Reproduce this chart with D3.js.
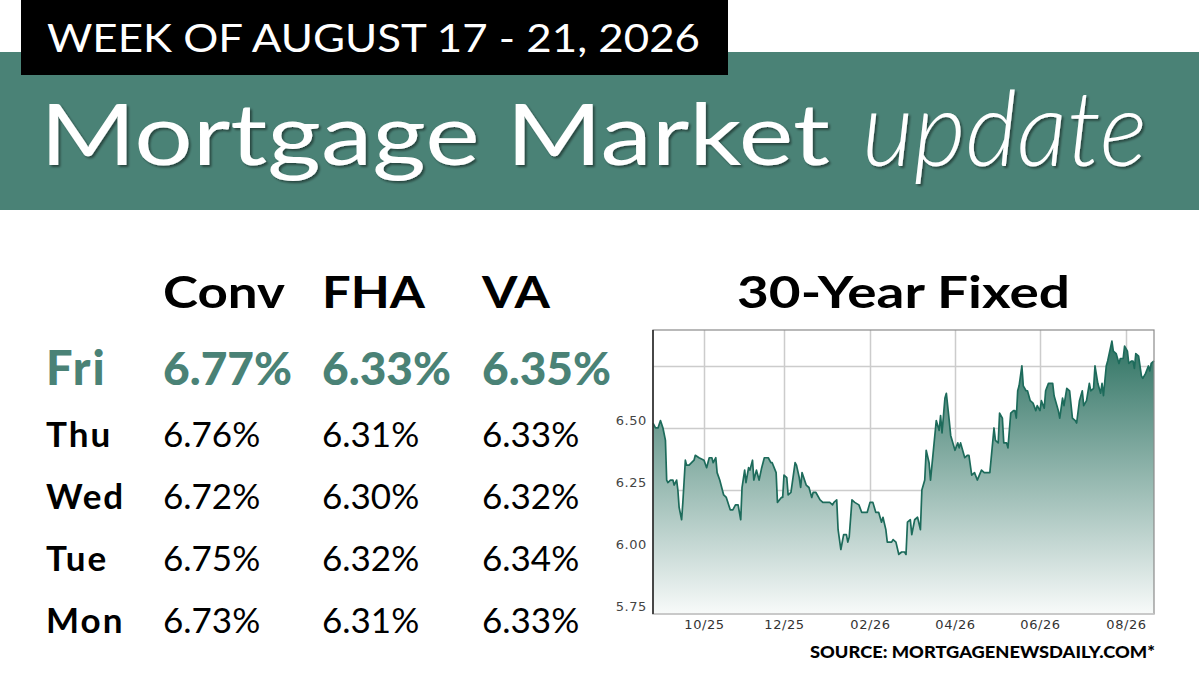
<!DOCTYPE html>
<html lang="en">
<head>
<meta charset="UTF-8">
<title>Mortgage Market update</title>
<script src="https://cdn.jsdelivr.net/npm/d3@7"></script>
<style>
  body { margin: 0; background: #fff; }
  svg { display: block; }
</style>
</head>
<body>
<div id="chart"></div>
<script>
// 30-year fixed
const rateDates = [
  "2025-08-21","2025-08-23","2025-08-25","2025-08-27","2025-08-29","2025-08-31",
  "2025-09-01","2025-09-02","2025-09-04","2025-09-06","2025-09-07","2025-09-09","2025-09-10","2025-09-11","2025-09-13","2025-09-14",
  "2025-09-16","2025-09-17","2025-09-19","2025-09-21","2025-09-23","2025-09-24","2025-09-27",
  "2025-10-01","2025-10-03","2025-10-05","2025-10-07","2025-10-08","2025-10-10","2025-10-11","2025-10-13","2025-10-16","2025-10-18",
  "2025-10-21","2025-10-23","2025-10-25","2025-10-27","2025-10-29","2025-10-30",
  "2025-11-01","2025-11-02","2025-11-04","2025-11-05","2025-11-07","2025-11-08","2025-11-10","2025-11-12","2025-11-14","2025-11-16",
  "2025-11-19","2025-11-21","2025-11-22","2025-11-25","2025-11-26","2025-11-29","2025-11-30",
  "2025-12-01","2025-12-03","2025-12-04","2025-12-06","2025-12-07","2025-12-09","2025-12-10","2025-12-12","2025-12-13","2025-12-14",
  "2025-12-17","2025-12-19","2025-12-21","2025-12-22","2025-12-24","2025-12-27","2025-12-29","2025-12-31",
  "2026-01-03","2026-01-05","2026-01-06","2026-01-08","2026-01-09","2026-01-11","2026-01-13","2026-01-15","2026-01-16","2026-01-17",
  "2026-01-19","2026-01-21","2026-01-24","2026-01-26","2026-01-28","2026-01-30",
  "2026-02-01","2026-02-03","2026-02-05","2026-02-07","2026-02-09","2026-02-10","2026-02-12","2026-02-13","2026-02-16","2026-02-17",
  "2026-02-19","2026-02-21","2026-02-23","2026-02-25","2026-02-26","2026-02-27",
  "2026-03-01","2026-03-02","2026-03-04","2026-03-06","2026-03-08","2026-03-09","2026-03-11","2026-03-12","2026-03-14","2026-03-15",
  "2026-03-17","2026-03-19","2026-03-21","2026-03-22","2026-03-23","2026-03-25","2026-03-26","2026-03-28","2026-03-29",
  "2026-04-01","2026-04-03","2026-04-04","2026-04-05","2026-04-08","2026-04-10","2026-04-11","2026-04-13","2026-04-15","2026-04-17",
  "2026-04-20","2026-04-22","2026-04-26","2026-04-29","2026-04-30",
  "2026-05-02","2026-05-03","2026-05-05","2026-05-06","2026-05-08","2026-05-09","2026-05-11","2026-05-13","2026-05-14","2026-05-15",
  "2026-05-16","2026-05-17","2026-05-19","2026-05-20","2026-05-22","2026-05-23","2026-05-25","2026-05-27","2026-05-29","2026-05-30",
  "2026-06-01","2026-06-02","2026-06-04","2026-06-05","2026-06-07","2026-06-10","2026-06-11","2026-06-14","2026-06-15","2026-06-17",
  "2026-06-18","2026-06-20","2026-06-22","2026-06-24","2026-06-26","2026-06-27","2026-06-29",
  "2026-07-01","2026-07-02","2026-07-04","2026-07-06","2026-07-07","2026-07-09","2026-07-10","2026-07-12","2026-07-14","2026-07-15",
  "2026-07-16","2026-07-18","2026-07-19","2026-07-22","2026-07-23","2026-07-25","2026-07-27","2026-07-28","2026-07-30","2026-07-31",
  "2026-08-02","2026-08-03","2026-08-05","2026-08-06","2026-08-07","2026-08-08","2026-08-10","2026-08-12","2026-08-13","2026-08-15",
  "2026-08-17","2026-08-18","2026-08-19","2026-08-21"
];
const rateValues = [
  6.52,6.50,6.50,6.53,6.50,6.45,
  6.29,6.28,6.29,6.29,6.27,6.29,6.25,6.18,6.13,6.20,
  6.37,6.35,6.35,6.36,6.37,6.39,6.38,
  6.37,6.34,6.38,6.38,6.36,6.38,6.32,6.29,6.23,6.22,
  6.17,6.17,6.19,6.19,6.13,6.26,
  6.33,6.28,6.34,6.33,6.37,6.29,6.33,6.29,6.34,6.38,
  6.38,6.36,6.36,6.32,6.20,6.22,6.22,
  6.31,6.30,6.23,6.24,6.28,6.36,6.35,6.30,6.26,6.32,
  6.27,6.26,6.22,6.24,6.24,6.21,6.20,6.20,
  6.20,6.19,6.20,6.21,6.09,6.01,6.07,6.07,6.04,6.06,
  6.21,6.20,6.19,6.16,6.16,6.16,
  6.20,6.20,6.16,6.16,6.12,6.14,6.09,6.04,6.04,6.05,
  6.04,5.99,6.00,6.00,5.99,6.12,
  6.13,6.07,6.13,6.14,6.09,6.25,6.29,6.41,6.36,6.29,
  6.41,6.53,6.49,6.55,6.48,6.62,6.64,6.53,6.47,
  6.41,6.44,6.42,6.44,6.38,6.39,6.39,6.31,6.32,6.29,
  6.33,6.32,6.32,6.50,6.45,
  6.44,6.56,6.54,6.44,6.44,6.42,6.56,6.57,6.57,6.54,
  6.65,6.67,6.75,6.67,6.65,6.65,6.61,6.60,6.57,6.59,
  6.57,6.61,6.58,6.65,6.68,6.68,6.63,6.57,6.54,6.62,
  6.59,6.66,6.65,6.54,6.53,6.52,6.61,
  6.65,6.59,6.61,6.68,6.65,6.66,6.75,6.68,6.64,6.68,
  6.63,6.75,6.77,6.85,6.81,6.80,6.76,6.78,6.78,6.83,
  6.81,6.76,6.77,6.77,6.74,6.80,6.79,6.71,6.70,6.72,
  6.75,6.73,6.76,6.77
];

const xTickDates = ["2025-10-01","2025-12-01","2026-02-01","2026-04-01","2026-06-01","2026-08-01"];
const xTickLabels = ["10/25","12/25","02/26","04/26","06/26","08/26"];
const yTickLabels = [5.75, 6.00, 6.25, 6.50];
const yGridValues = [6.00, 6.25, 6.50, 6.75];

// daily table
const columns = ["Conv", "FHA", "VA"];
const weekDays = ["Fri", "Thu", "Wed", "Tue", "Mon"];
const convRates = [6.77, 6.76, 6.72, 6.75, 6.73];
const fhaRates = [6.33, 6.31, 6.30, 6.32, 6.31];
const vaRates = [6.35, 6.33, 6.32, 6.34, 6.33];

const W = 1200, H = 697;
const teal = "#4a8276";
const parse = d3.timeParse("%Y-%m-%d");
const data = rateDates.map((d, i) => ({ date: parse(d), value: rateValues[i] }));

const svg = d3.select("#chart").append("svg")
    .attr("width", W)
    .attr("height", H);

const defs = svg.append("defs");
const shadow = defs.append("filter").attr("id", "shadow")
    .attr("x", "-5%").attr("y", "-10%").attr("width", "110%").attr("height", "130%");
shadow.append("feDropShadow")
    .attr("dx", 2).attr("dy", 2).attr("stdDeviation", 1.3)
    .attr("flood-color", "#000").attr("flood-opacity", 0.45);

const grad = defs.append("linearGradient").attr("id", "areaFill")
    .attr("gradientUnits", "userSpaceOnUse")
    .attr("x1", 0).attr("y1", 340).attr("x2", 0).attr("y2", 624);
grad.append("stop").attr("offset", 0).attr("stop-color", "#2f7363");
grad.append("stop").attr("offset", 1).attr("stop-color", "#ffffff");

// header
svg.append("rect").attr("x", 0).attr("y", 52).attr("width", 1199).attr("height", 158).attr("fill", teal);
svg.append("rect").attr("x", 21).attr("y", 0).attr("width", 707).attr("height", 75).attr("fill", "#000");

svg.append("text")
    .attr("x", 47).attr("y", 52)
    .attr("font-family", "Lato").attr("font-size", 38)
    .attr("fill", "#fff")
    .attr("textLength", 653).attr("lengthAdjust", "spacingAndGlyphs")
    .text("WEEK OF AUGUST 17 - 21, 2026");

svg.append("text")
    .attr("x", 40).attr("y", 165)
    .attr("font-family", "Lato").attr("font-size", 86)
    .attr("fill", "#fff")
    .attr("filter", "url(#shadow)")
    .attr("textLength", 790).attr("lengthAdjust", "spacingAndGlyphs")
    .text("Mortgage Market");

svg.append("text")
    .attr("x", 862).attr("y", 166)
    .attr("font-family", "Lato").attr("font-size", 104)
    .attr("font-style", "italic").attr("font-weight", 300)
    .attr("fill", "#fff")
    .attr("filter", "url(#shadow)")
    .attr("textLength", 285).attr("lengthAdjust", "spacingAndGlyphs")
    .text("update");

// rates table
const colX = d3.scaleOrdinal().domain(columns).range([163, 322, 482]);
const rowY = d3.scalePoint().domain(weekDays).range([385, 633]);
const headerWidths = [122, 103, 68];

svg.append("g").selectAll("text")
    .data(columns)
    .join("text")
      .attr("x", d => colX(d))
      .attr("y", 308)
      .attr("font-family", "Lato").attr("font-weight", 700).attr("font-size", 44)
      .attr("fill", "#000")
      .attr("textLength", (d, i) => headerWidths[i]).attr("lengthAdjust", "spacingAndGlyphs")
      .text(d => d);

const rows = weekDays.map((day, i) => ({ day, vals: [convRates[i], fhaRates[i], vaRates[i]] }));

rows.forEach((r, i) => {
  const first = i === 0;
  svg.append("text")
      .attr("x", 46).attr("y", rowY(r.day))
      .attr("font-family", "Lato").attr("font-weight", first ? 900 : 700)
      .attr("font-size", first ? 47 : 35)
      .attr("letter-spacing", first ? 2 : 2)
      .attr("fill", first ? teal : "#000")
      .text(r.day);
  r.vals.forEach((v, j) => {
    svg.append("text")
        .attr("x", colX(columns[j])).attr("y", rowY(r.day))
        .attr("font-family", "Lato")
        .attr("font-weight", first ? 900 : 400)
        .attr("font-size", first ? 46 : 35)
        .attr("fill", first ? teal : "#000")
        .text(v.toFixed(2) + "%");
  });
});

// chart
svg.append("text")
    .attr("x", 737).attr("y", 308)
    .attr("font-family", "Lato").attr("font-weight", 700).attr("font-size", 44)
    .attr("fill", "#000")
    .attr("textLength", 333).attr("lengthAdjust", "spacingAndGlyphs")
    .text("30-Year Fixed");

const plot = { left: 653, top: 330, right: 1154, bottom: 614 };
const tickDates = xTickDates.map(parse);

const x = d3.scaleTime()
    .domain([data[0].date, ...tickDates, data[data.length - 1].date])
    .range([plot.left, 704, 784, 870, 955, 1040, 1126, plot.right]);
const y = d3.scaleLinear()
    .domain([5.75, 6.895])
    .range([plot.bottom, plot.top]);

// gridlines
const gx = svg.append("g")
    .attr("transform", `translate(0,${plot.bottom})`)
    .call(d3.axisBottom(x)
      .tickValues(tickDates)
      .tickSize(-(plot.bottom - plot.top))
      .tickPadding(6)
      .tickFormat((d, i) => xTickLabels[i]));
gx.select(".domain").remove();
gx.selectAll("line").attr("stroke", "#cccccc").attr("stroke-width", 1.5);
gx.selectAll("text")
    .attr("font-family", "DejaVu Sans").attr("font-size", 13)
    .attr("letter-spacing", 0.6)
    .attr("fill", "#333");

const gy = svg.append("g")
    .attr("transform", `translate(${plot.left},0)`)
    .call(d3.axisLeft(y)
      .tickValues(yGridValues)
      .tickSize(-(plot.right - plot.left))
      .tickFormat(""));
gy.select(".domain").remove();
gy.selectAll("line").attr("stroke", "#cccccc").attr("stroke-width", 1.5);

const gyl = svg.append("g")
    .attr("transform", `translate(${plot.left},-8)`)
    .call(d3.axisLeft(y)
      .tickValues(yTickLabels)
      .tickSize(0)
      .tickPadding(6)
      .tickFormat(d3.format(".2f")));
gyl.select(".domain").remove();
gyl.selectAll("text")
    .attr("font-family", "DejaVu Sans").attr("font-size", 13)
    .attr("letter-spacing", 0.6)
    .attr("fill", "#444");

// area + line
const area = d3.area()
    .x(d => x(d.date))
    .y0(plot.bottom)
    .y1(d => y(d.value));
const line = d3.line()
    .x(d => x(d.date))
    .y(d => y(d.value));

svg.append("path").datum(data).attr("d", area).attr("fill", "url(#areaFill)");
svg.append("path").datum(data).attr("d", line)
    .attr("fill", "none")
    .attr("stroke", "#1d6b5b")
    .attr("stroke-width", 1.7)
    .attr("stroke-linejoin", "round");

// frame
svg.append("rect")
    .attr("x", plot.left).attr("y", plot.top)
    .attr("width", plot.right - plot.left).attr("height", plot.bottom - plot.top)
    .attr("fill", "none").attr("stroke", "#8a8a8a").attr("stroke-width", 1.2);
svg.append("line")
    .attr("x1", plot.left).attr("x2", plot.right)
    .attr("y1", plot.bottom).attr("y2", plot.bottom)
    .attr("stroke", "#cfcfcf").attr("stroke-width", 1.5);
svg.append("line")
    .attr("x1", plot.left).attr("x2", plot.left)
    .attr("y1", plot.top).attr("y2", plot.bottom)
    .attr("stroke", "#222").attr("stroke-width", 1.5);

svg.append("text")
    .attr("x", 810).attr("y", 658)
    .attr("font-family", "Lato").attr("font-weight", 900).attr("font-size", 16.5)
    .attr("fill", "#000")
    .attr("textLength", 345).attr("lengthAdjust", "spacingAndGlyphs")
    .text("SOURCE: MORTGAGENEWSDAILY.COM*");
</script>
</body>
</html>
